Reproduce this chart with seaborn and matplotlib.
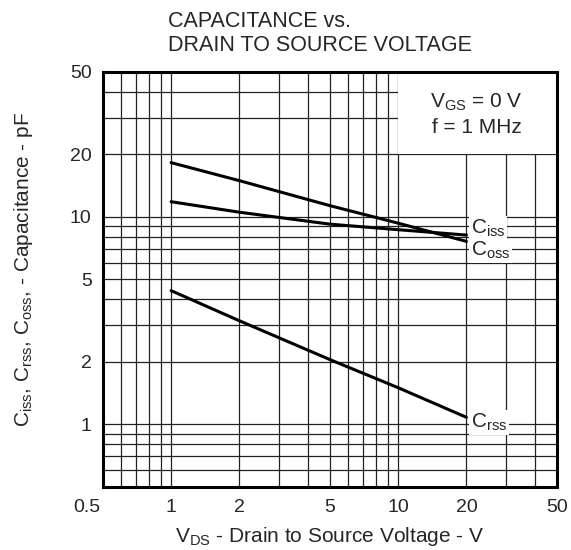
import numpy as np
import pandas as pd
import seaborn as sns
import matplotlib.pyplot as plt
import matplotlib.transforms as mtransforms
from matplotlib.ticker import FixedLocator, NullFormatter, FixedFormatter
from matplotlib.patches import Rectangle

# values
vds = [1, 2, 5, 10, 20]
ciss = [11.8, 10.5, 9.2, 8.65, 8.15]
coss = [18.2, 14.9, 11.3, 9.3, 7.6]
crss = [4.4, 3.15, 2.05, 1.5, 1.08]

x_ticks = [0.5, 1, 2, 5, 10, 20, 50]
x_labels = ['0.5', '1', '2', '5', '10', '20', '50']
y_ticks = [0.5, 1, 2, 5, 10, 20, 50]
y_labels = ['', '1', '2', '5', '10', '20', '50']

df = pd.DataFrame({
    'vds': vds * 3,
    'cap': ciss + coss + crss,
    'series': ['Ciss'] * 5 + ['Coss'] * 5 + ['Crss'] * 5,
})

sns.set_style('white')
plt.rcParams['font.family'] = ['Liberation Sans', 'DejaVu Sans']
plt.rcParams['mathtext.fontset'] = 'custom'
plt.rcParams['mathtext.rm'] = 'Liberation Sans'
plt.rcParams['mathtext.it'] = 'Liberation Sans'

fig = plt.figure(figsize=(5.71, 5.5), dpi=100)
ax = fig.add_axes([0.180, 0.115, 0.795, 0.755])

sns.lineplot(data=df, x='vds', y='cap', units='series', estimator=None,
             color='black', linewidth=2.2, ax=ax, zorder=3)

ax.set_xscale('log')
ax.set_yscale('log')
ax.set_xlim(0.5, 50)
ax.set_ylim(0.5, 50)

minor = []
for d in [0.1, 1, 10]:
    minor += [d * k for k in range(1, 10)]
minor = [m for m in minor if 0.5 < m < 50]
ax.xaxis.set_major_locator(FixedLocator(x_ticks))
ax.xaxis.set_major_formatter(FixedFormatter(x_labels))
ax.xaxis.set_minor_locator(FixedLocator(minor))
ax.xaxis.set_minor_formatter(NullFormatter())
ax.yaxis.set_major_locator(FixedLocator(y_ticks))
ax.yaxis.set_major_formatter(FixedFormatter(y_labels))
ax.yaxis.set_minor_locator(FixedLocator(minor))
ax.yaxis.set_minor_formatter(NullFormatter())

ax.grid(True, which='both', color='#222222', linewidth=0.9)
ax.set_axisbelow(True)
ax.tick_params(which='both', length=0, labelsize=14)
ax.tick_params(axis='x', pad=9)
ax.tick_params(axis='y', pad=8)

# corner label 0.5 sits a bit left of the corner
shift = mtransforms.ScaledTranslation(-0.16, 0, fig.dpi_scale_trans)
lbl = ax.xaxis.get_majorticklabels()[0]
lbl.set_transform(lbl.get_transform() + shift)

# blank box for conditions text
ax.add_patch(Rectangle((10, 20), 40, 30, facecolor='white', edgecolor='none', zorder=1.5))
ax.text(22.2, 31.1, 'V$_{\\mathrm{GS}}$ = 0 V\nf = 1 MHz', ha='center', va='center',
        fontsize=15, linespacing=1.35, zorder=4)

box = dict(facecolor='white', edgecolor='none', pad=1.0)
ax.text(20.9, 8.8, 'C$_{\\mathrm{iss}}$', fontsize=15, va='center', ha='left', bbox=box, zorder=4)
ax.text(20.9, 6.85, 'C$_{\\mathrm{oss}}$', fontsize=15, va='center', ha='left', bbox=box, zorder=4)
ax.text(20.9, 1.02, 'C$_{\\mathrm{rss}}$', fontsize=15, va='center', ha='left', bbox=box, zorder=4)

for s in ax.spines.values():
    s.set_linewidth(2.2)
    s.set_color('black')

ax.set_xlabel('V$_{\\mathrm{DS}}$ - Drain to Source Voltage - V', fontsize=15)
ax.xaxis.label.set_va('center')
ax.xaxis.set_label_coords(0.5, -0.120)
ax.set_ylabel('C$_{\\mathrm{iss}}$, C$_{\\mathrm{rss}}$, C$_{\\mathrm{oss}}$, - Capacitance - pF',
              fontsize=15)
ax.yaxis.label.set_va('center')
ax.yaxis.set_label_coords(-0.174, 0.523)

fig.text(0.294, 0.939, 'CAPACITANCE vs.\nDRAIN TO SOURCE VOLTAGE', ha='left', va='center',
         fontsize=15.5, linespacing=1.2)

fig.savefig('out.png', dpi=100)
